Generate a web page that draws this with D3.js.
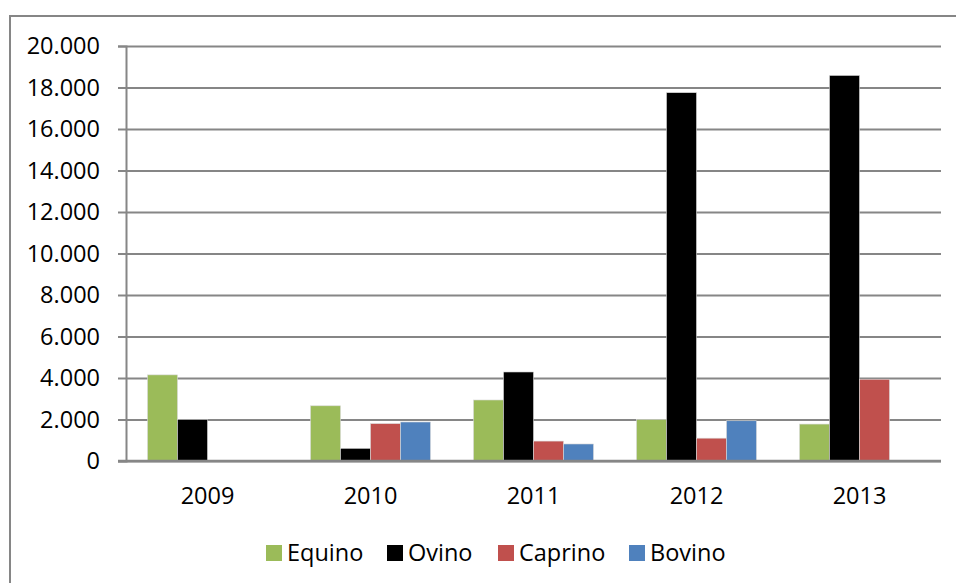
<!DOCTYPE html>
<html>
<head>
<meta charset="utf-8">
<script src="https://cdn.jsdelivr.net/npm/d3@7"></script>
<style>
  html, body { margin: 0; padding: 0; background: #fff; }
  svg { display: block; }
  text { font-family: "Open Sans", "Noto Sans", sans-serif; fill: #000; }
</style>
</head>
<body>
<svg id="chart" width="956" height="583"></svg>
<script>
const years = ["2009", "2010", "2011", "2012", "2013"];
const seriesNames = ["Equino", "Ovino", "Caprino", "Bovino"];
const seriesColors = ["#9BBB59", "#000000", "#C0504D", "#4F81BD"];
const equino  = [4150, 2660, 2940, 2000, 1780];
const ovino   = [2000, 610, 4290, 17750, 18580];
const caprino = [0, 1800, 960, 1100, 3940];
const bovino  = [0, 1880, 820, 1940, 0];
const yTicks = [0, 2000, 4000, 6000, 8000, 10000, 12000, 14000, 16000, 18000, 20000];

const seriesValues = [equino, ovino, caprino, bovino];

const svg = d3.select("#chart");
const W = 956, H = 583;
const plot = { left: 126, right: 941, top: 46, bottom: 461 };

// outer chart border (right/bottom edges fall outside the frame)
svg.append("rect")
  .attr("x", 10).attr("y", 16)
  .attr("width", W + 20).attr("height", H + 20)
  .attr("fill", "#fff")
  .attr("stroke", "#868686").attr("stroke-width", 2);

const y = d3.scaleLinear().domain([0, 20000]).range([plot.bottom, plot.top]);
const x0 = d3.scaleBand().domain(years).range([plot.left, plot.right]).paddingInner(0).paddingOuter(0);
const groupW = x0.bandwidth() * 0.736;
const x1 = d3.scaleBand().domain(seriesNames).range([0, groupW]).padding(0);

const fmt = v => d3.format(",")(v).replace(/,/g, ".");

// gridlines
const yAxis = d3.axisLeft(y).tickValues(yTicks).tickSize(-(plot.right - plot.left)).tickFormat(() => "");
const grid = svg.append("g").attr("transform", `translate(${plot.left},0)`).call(yAxis);
grid.select(".domain").remove();
grid.selectAll(".tick line").attr("stroke", "#868686").attr("stroke-width", 2);

// y tick marks & labels
const yAxis2 = d3.axisLeft(y).tickValues(yTicks).tickSize(8).tickPadding(18).tickFormat(fmt);
const ya = svg.append("g").attr("transform", `translate(${plot.left},0)`).call(yAxis2);
ya.select(".domain").attr("stroke", "#868686").attr("stroke-width", 2);
ya.selectAll(".tick line").attr("stroke", "#868686").attr("stroke-width", 2);
ya.selectAll(".tick text")
  .attr("font-size", 23.5)
  .attr("font-family", "'Open Sans', sans-serif")
  .attr("fill", "#000");

// bars
const groups = svg.append("g").selectAll("g")
  .data(years)
  .join("g")
  .attr("transform", d => `translate(${x0(d) + (x0.bandwidth() - groupW) / 2},0)`);

groups.selectAll("rect")
  .data((d, i) => seriesNames.map((s, j) => ({ s, j, v: seriesValues[j][i] })))
  .join("rect")
  .filter(d => d.v > 0)
  .attr("x", d => x1(d.s))
  .attr("y", d => y(d.v))
  .attr("width", x1.bandwidth())
  .attr("height", d => plot.bottom - y(d.v))
  .attr("fill", d => seriesColors[d.j])
  .attr("stroke", "#d9d9d9")
  .attr("stroke-width", 0.6);

// x axis
const xAxis = d3.axisBottom(x0).tickSize(0).tickPadding(26);
const xa = svg.append("g").attr("transform", `translate(0,${plot.bottom})`).call(xAxis);
xa.select(".domain").remove();
xa.selectAll(".tick text")
  .attr("font-size", 23.5)
  .attr("font-family", "'Open Sans', sans-serif")
  .attr("fill", "#000");
svg.append("line")
  .attr("x1", plot.left - 8).attr("x2", plot.right)
  .attr("y1", plot.bottom).attr("y2", plot.bottom)
  .attr("stroke", "#868686").attr("stroke-width", 2.5);

// legend
const legendX = [266, 387, 498, 629];
const legend = svg.append("g");
seriesNames.forEach((s, i) => {
  legend.append("rect")
    .attr("x", legendX[i]).attr("y", 545)
    .attr("width", 16).attr("height", 16)
    .attr("fill", seriesColors[i]);
  legend.append("text")
    .attr("x", legendX[i] + 21).attr("y", 561)
    .attr("font-size", 23.5)
    .text(s);
});
</script>
</body>
</html>
